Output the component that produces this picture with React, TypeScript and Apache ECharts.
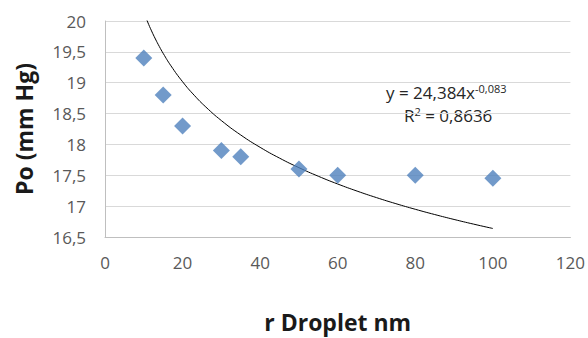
import React, { useEffect, useRef } from "react";
import * as echarts from "echarts";

const radii = [10, 15, 20, 30, 35, 50, 60, 80, 100];
const pressures = [19.4, 18.8, 18.3, 17.9, 17.8, 17.6, 17.5, 17.5, 17.45];
const yTicks = ["16,5", "17", "17,5", "18", "18,5", "19", "19,5", "20"];
// Power trendline from the chart: y = 24.384 x^-0.083
const trendCoef = 24.384;
const trendExp = -0.083;
const trendXs = [10, 11, 12, 13, 14, 15, 17, 20, 23, 26, 30, 35, 40, 45, 50, 55, 60, 65, 70, 75, 80, 85, 90, 95, 100];

export default function App() {
  const ref = useRef<HTMLDivElement>(null);
  useEffect(() => {
    if (!ref.current) return;
    const chart = echarts.init(ref.current, null, { renderer: "svg" });
    const font = "'Open Sans', 'Liberation Sans', sans-serif";
    const trend = trendXs.map((x) => [x, trendCoef * Math.pow(x, trendExp)]);
    chart.setOption({
      animation: false,
      backgroundColor: "#ffffff",
      grid: { left: 105, right: 15, top: 21, bottom: 99 },
      xAxis: {
        type: "value",
        min: 0,
        max: 120,
        interval: 20,
        name: "r Droplet nm",
        nameLocation: "middle",
        nameGap: 73,
        nameTextStyle: { fontFamily: font, fontWeight: "bold", fontSize: 23, color: "#1a1a1a" },
        axisLine: { show: true, lineStyle: { color: "#BFBFBF" } },
        axisTick: { show: false },
        splitLine: { show: false },
        axisLabel: { fontFamily: font, fontSize: 17, color: "#595959", margin: 17 },
      },
      yAxis: {
        type: "value",
        min: 16.5,
        max: 20,
        interval: 0.5,
        name: "Po (mm Hg)",
        nameLocation: "middle",
        nameGap: 70,
        nameTextStyle: { fontFamily: font, fontWeight: "bold", fontSize: 23, color: "#1a1a1a" },
        axisLine: { show: true, lineStyle: { color: "#BFBFBF" } },
        axisTick: { show: false },
        splitLine: { show: true, lineStyle: { color: "#D9D9D9" } },
        axisLabel: {
          fontFamily: font,
          fontSize: 17,
          color: "#595959",
          margin: 19,
          formatter: (v: number) => {
            const idx = Math.round((v - 16.5) / 0.5);
            return yTicks[idx] ?? "";
          },
        },
      },
      series: [
        {
          type: "line",
          data: trend,
          smooth: true,
          showSymbol: false,
          clip: true,
          lineStyle: { color: "#000000", width: 1 },
          z: 2,
        },
        {
          type: "scatter",
          data: radii.map((r, i) => [r, pressures[i]]),
          symbol: "diamond",
          symbolSize: 17,
          itemStyle: { color: "#4F81BD" },
          z: 3,
        },
      ],
      graphic: [
        {
          type: "text",
          left: 386,
          top: 83,
          style: {
            text: "{m|y = 24,384x}{s|-0,083}",
            rich: {
              m: { fontFamily: font, fontSize: 17, lineHeight: 18, fill: "#262626" },
              s: { fontFamily: font, fontSize: 11, lineHeight: 11, fill: "#262626", verticalAlign: "top" },
            },
          },
        },
        {
          type: "text",
          left: 404,
          top: 106,
          style: {
            text: "{m|R}{s|2}{m| = 0,8636}",
            rich: {
              m: { fontFamily: font, fontSize: 17, lineHeight: 18, fill: "#262626" },
              s: { fontFamily: font, fontSize: 11, lineHeight: 11, fill: "#262626", verticalAlign: "top" },
            },
          },
        },
      ],
    });
    return () => chart.dispose();
  }, []);
  return (
    <div
      ref={ref}
      style={{ position: "fixed", left: 0, top: 0, width: 588, height: 338, background: "#fff" }}
    />
  );
}
